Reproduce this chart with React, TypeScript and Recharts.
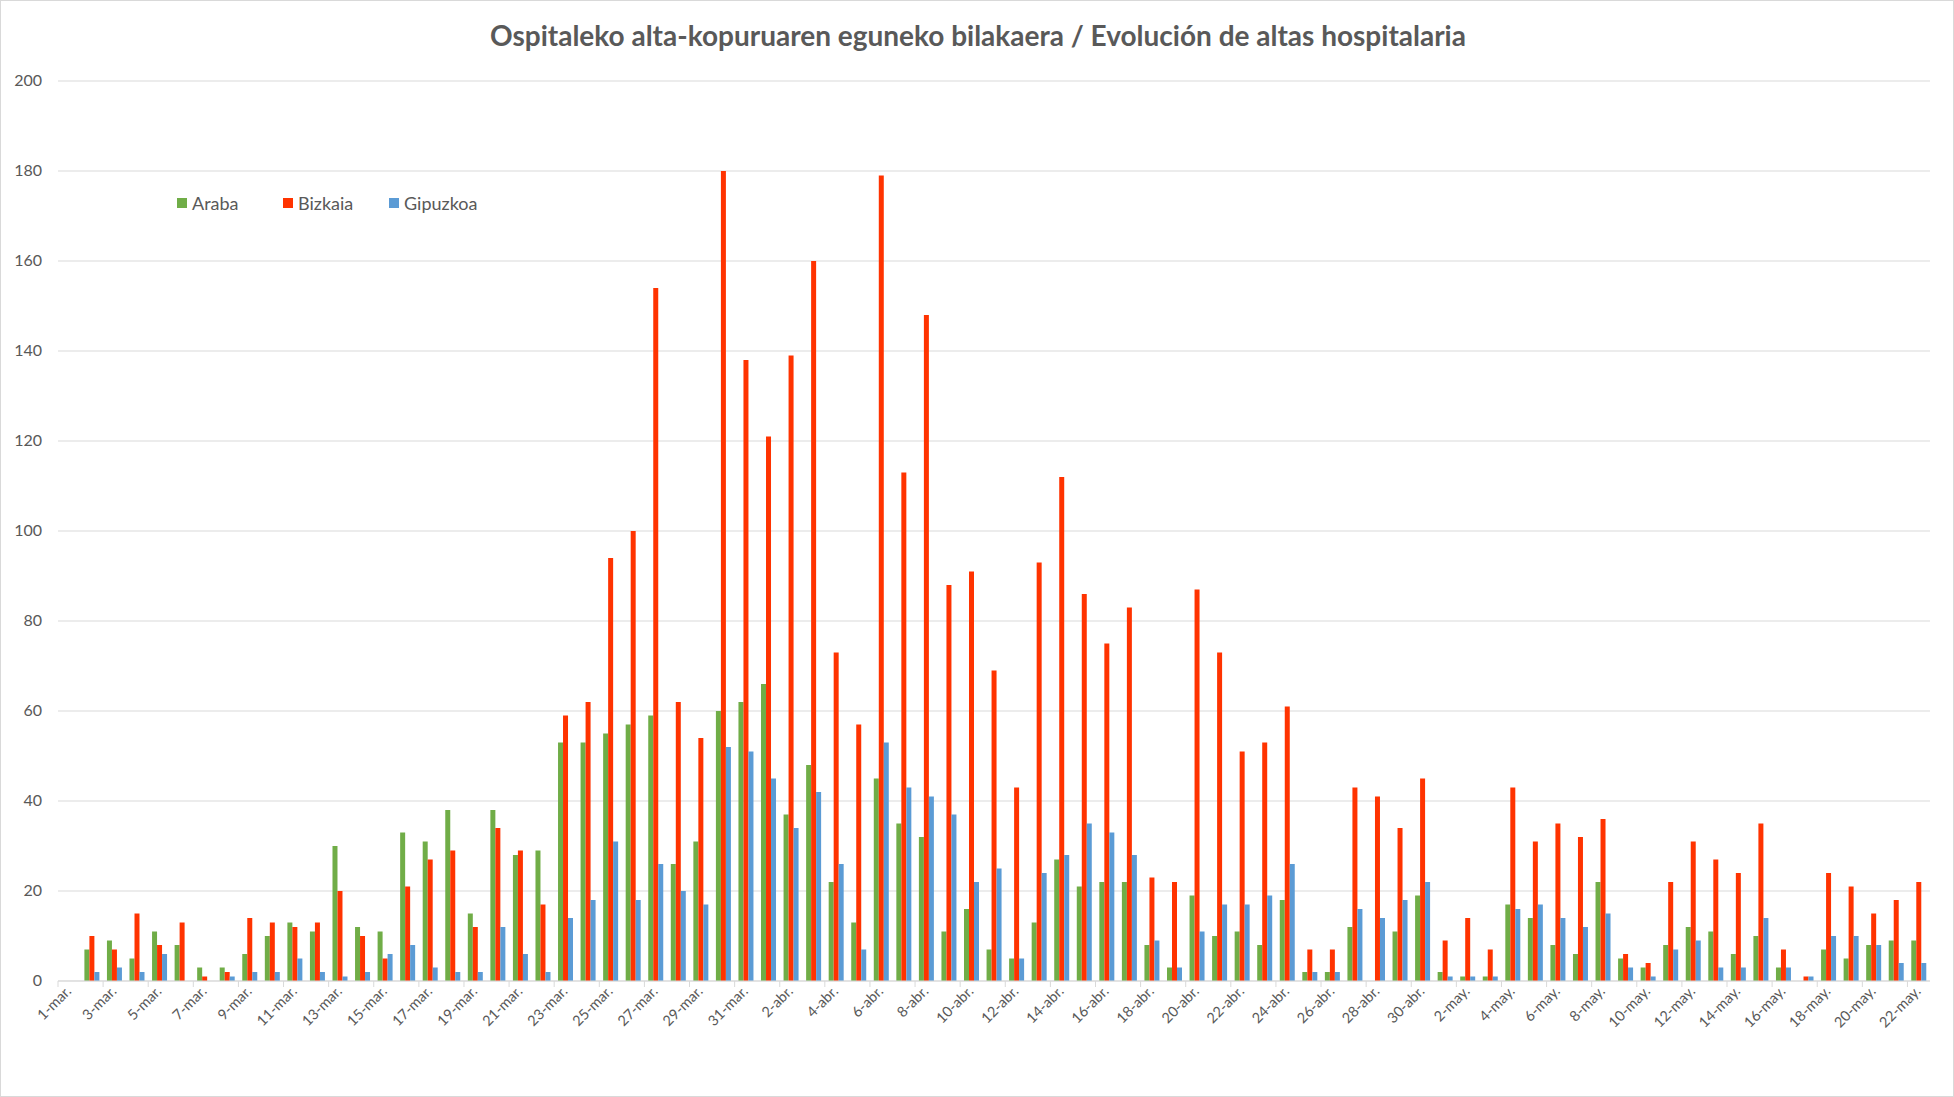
import React from 'react';
import { BarChart, Bar, XAxis, YAxis, CartesianGrid } from 'recharts';

// Categories: 1-mar. .. 22-may.
const MONTHS: [string, number][] = [
  ['mar.', 31],
  ['abr.', 30],
  ['may.', 22],
];
const DAYS: string[] = MONTHS.flatMap(([m, n]) =>
  Array.from({ length: n }, (_, i) => `${i + 1}-${m}`)
);

const ARABA = [
  0, 7, 9, 5, 11, 8, 3, 3, 6, 10, 13, 11, 30, 12, 11, 33, 31, 38, 15, 38, 28,
  29, 53, 53, 55, 57, 59, 26, 31, 60, 62,
  66, 37, 48, 22, 13, 45, 35, 32, 11, 16, 7, 5, 13, 27, 21, 22, 22, 8, 3, 19,
  10, 11, 8, 18, 2, 2, 12, 0, 11, 19,
  2, 1, 1, 17, 14, 8, 6, 22, 5, 3, 8, 12, 11, 6, 10, 3, 0, 7, 5, 8, 9, 9,
];
const BIZKAIA = [
  0, 10, 7, 15, 8, 13, 1, 2, 14, 13, 12, 13, 20, 10, 5, 21, 27, 29, 12, 34, 29,
  17, 59, 62, 94, 100, 154, 62, 54, 180, 138,
  121, 139, 160, 73, 57, 179, 113, 148, 88, 91, 69, 43, 93, 112, 86, 75, 83, 23, 22, 87,
  73, 51, 53, 61, 7, 7, 43, 41, 34, 45,
  9, 14, 7, 43, 31, 35, 32, 36, 6, 4, 22, 31, 27, 24, 35, 7, 1, 24, 21, 15, 18, 22,
];
const GIPUZKOA = [
  0, 2, 3, 2, 6, 0, 0, 1, 2, 2, 5, 2, 1, 2, 6, 8, 3, 2, 2, 12, 6,
  2, 14, 18, 31, 18, 26, 20, 17, 52, 51,
  45, 34, 42, 26, 7, 53, 43, 41, 37, 22, 25, 5, 24, 28, 35, 33, 28, 9, 3, 11,
  17, 17, 19, 26, 2, 2, 16, 14, 18, 22,
  1, 1, 1, 16, 17, 14, 12, 15, 3, 1, 7, 9, 3, 3, 14, 3, 1, 10, 10, 8, 4, 4,
];
const Y_TICKS = [0, 20, 40, 60, 80, 100, 120, 140, 160, 180, 200];

const SERIES = [
  { key: 'araba', name: 'Araba', color: '#70AD47' },
  { key: 'bizkaia', name: 'Bizkaia', color: '#FF3300' },
  { key: 'gipuzkoa', name: 'Gipuzkoa', color: '#5B9BD5' },
];

const data = DAYS.map((day, i) => ({
  day,
  araba: ARABA[i],
  bizkaia: BIZKAIA[i],
  gipuzkoa: GIPUZKOA[i],
}));

const W = 1954;
const H = 1097;
const PLOT_LEFT = 58;
const PLOT_RIGHT = 1930;
const PLOT_TOP = 81;
const PLOT_BOTTOM = 981;
const BAND = (PLOT_RIGHT - PLOT_LEFT) / DAYS.length;
const FONT = 'Lato, "Open Sans", sans-serif';
const TEXT = '#595959';
const GRID = '#D9D9D9';

const XTick = (props: any) => {
  const { x, y, payload, index } = props;
  if (index % 2 !== 0) return <g />;
  const left = x - BAND / 2;
  const ax = x + 3;
  const ay = y + 11;
  return (
    <g>
      <line x1={left} x2={left} y1={y} y2={y + 6} stroke={GRID} />
      <text
        x={ax}
        y={ay}
        textAnchor="end"
        transform={`rotate(-45 ${ax} ${ay})`}
        fill={TEXT}
        fontSize={14.5}
        fontFamily={FONT}
      >
        {payload.value}
      </text>
    </g>
  );
};

const YTick = (props: any) => {
  const { y, payload } = props;
  return (
    <text x={42} y={y + 5} textAnchor="end" fill={TEXT} fontSize={16} fontFamily={FONT}>
      {payload.value}
    </text>
  );
};

export default function App() {
  return (
    <div
      style={{
        position: 'absolute',
        left: 0,
        top: 0,
        width: W,
        height: H,
        background: '#fff',
        border: `1px solid ${GRID}`,
        boxSizing: 'border-box',
      }}
    >
      <div style={{ position: 'absolute', left: -1, top: -1 }}>
        <BarChart
          width={W}
          height={H}
          data={data}
          margin={{ top: PLOT_TOP, right: W - PLOT_RIGHT, left: 0, bottom: 0 }}
          barCategoryGap="17%"
          barGap={0}
        >
          <CartesianGrid vertical={false} stroke={GRID} />
          <XAxis
            dataKey="day"
            interval={0}
            height={H - PLOT_BOTTOM}
            tickSize={0}
            tickMargin={0}
            axisLine={{ stroke: GRID }}
            tick={<XTick />}
          />
          <YAxis
            width={PLOT_LEFT}
            domain={[0, 200]}
            ticks={Y_TICKS}
            axisLine={false}
            tickLine={false}
            tick={<YTick />}
          />
          {SERIES.map((s) => (
            <Bar key={s.key} dataKey={s.key} name={s.name} fill={s.color} isAnimationActive={false} />
          ))}
        </BarChart>
      </div>
      <div
        style={{
          position: 'absolute',
          top: 17,
          left: 0,
          width: W,
          textAlign: 'center',
          fontFamily: FONT,
          fontWeight: 700,
          fontSize: 28,
          color: TEXT,
        }}
      >
        Ospitaleko alta-kopuruaren eguneko bilakaera / Evolución de altas hospitalaria
      </div>
      <div
        style={{
          position: 'absolute',
          top: 191,
          left: 176,
          display: 'flex',
          fontFamily: FONT,
          fontSize: 18,
          color: TEXT,
        }}
      >
        {SERIES.map((s) => (
          <div key={s.key} style={{ width: 106, display: 'flex', alignItems: 'center' }}>
            <span style={{ width: 10, height: 10, background: s.color, marginRight: 5 }} />
            <span>{s.name}</span>
          </div>
        ))}
      </div>
    </div>
  );
}
